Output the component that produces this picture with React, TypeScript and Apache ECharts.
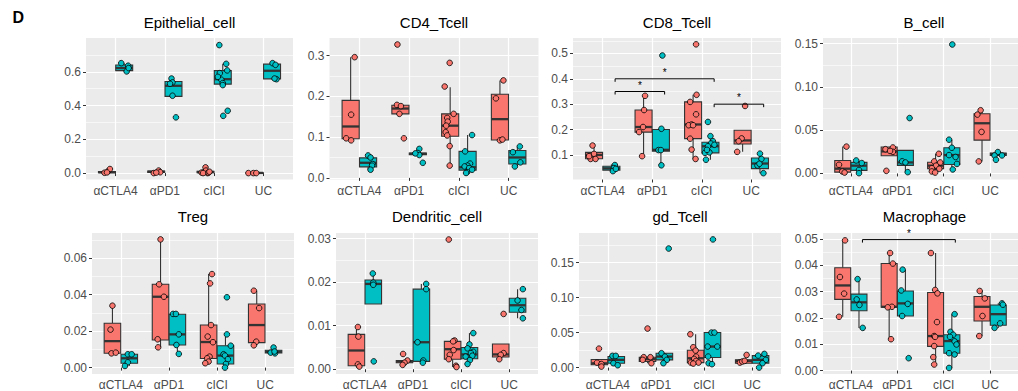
import React, { useEffect, useRef } from "react";
import * as echarts from "echarts";

const categories = ["αCTLA4", "αPD1", "cICI", "UC"];
const COLOR_A = "#F8766D";
const COLOR_B = "#00BFC4";
const FONT = "'Liberation Sans', Arial, Helvetica, sans-serif";

// box stats per category: [lower whisker, Q1, median, Q3, upper whisker]
// points per category: [jitter, value]

// Epithelial_cell
const epiBoxA = [[0.0, 0.002, 0.005, 0.009, 0.024], [0.0, 0.004, 0.008, 0.012, 0.02], [0.0, 0.003, 0.006, 0.01, 0.03], [0.0, 0.0, 0.001, 0.002, 0.003]];
const epiBoxB = [[0.6, 0.607, 0.622, 0.64, 0.651], [0.454, 0.454, 0.517, 0.542, 0.56], [0.521, 0.527, 0.556, 0.607, 0.647], [0.555, 0.558, 0.606, 0.645, 0.651]];
const epiPtsA = [
  [[-0.05, 0.002], [0.02, 0.01], [0.06, 0.024], [0.0, 0.004]],
  [[-0.05, 0.0], [0.05, 0.015], [0.08, 0.005], [0.0, 0.003]],
  [[-0.08, 0.003], [-0.03, 0.005], [0.0, 0.034], [0.01, 0.015], [0.04, 0.0], [0.06, 0.002], [0.08, 0.008], [-0.05, 0.0]],
  [[-0.13, 0.0], [-0.03, 0.0], [0.03, 0.0]],
];
const epiPtsB = [
  [[-0.06, 0.651], [0.08, 0.636], [0.05, 0.602], [0.09, 0.622]],
  [[-0.04, 0.56], [-0.02, 0.537], [-0.07, 0.529], [-0.02, 0.458], [0.05, 0.33]],
  [[-0.07, 0.758], [0.07, 0.647], [0.09, 0.608], [-0.06, 0.592], [-0.03, 0.553], [0.0, 0.533], [0.0, 0.521], [0.01, 0.339], [0.1, 0.369], [-0.1, 0.57]],
  [[0.01, 0.651], [0.07, 0.641], [0.09, 0.556], [0.05, 0.56]],
];
const epiTicks = [0, 0.2, 0.4, 0.6];
const epiTickLabels = ["0.0", "0.2", "0.4", "0.6"];
const epiRange = [-0.038, 0.8];

// CD4_Tcell
const cd4BoxA = [[0.092, 0.096, 0.126, 0.19, 0.296], [0.157, 0.157, 0.17, 0.178, 0.178], [0.03, 0.102, 0.128, 0.157, 0.222], [0.09, 0.093, 0.144, 0.205, 0.239]];
const cd4BoxB = [[0.02, 0.027, 0.037, 0.049, 0.055], [0.056, 0.057, 0.059, 0.061, 0.062], [0.012, 0.019, 0.026, 0.065, 0.105], [0.028, 0.034, 0.05, 0.067, 0.077]];
const cd4PtsA = [
  [[0.08, 0.296], [0.01, 0.155], [-0.09, 0.097], [0.01, 0.092]],
  [[-0.06, 0.327], [-0.07, 0.179], [0.01, 0.176], [-0.02, 0.157], [0.07, 0.097]],
  [[-0.01, 0.282], [-0.11, 0.224], [0.07, 0.157], [-0.06, 0.147], [-0.05, 0.138], [-0.08, 0.128], [-0.09, 0.112], [-0.06, 0.104], [-0.01, 0.078], [-0.01, 0.03]],
  [[0.07, 0.239], [-0.08, 0.195], [0.0, 0.092], [0.05, 0.094]],
];
const cd4PtsB = [
  [[0.0, 0.055], [0.05, 0.05], [0.09, 0.034], [0.08, 0.03], [0.05, 0.02]],
  [[0.03, 0.071], [0.0, 0.061], [0.03, 0.056], [0.1, 0.037], [-0.05, 0.06]],
  [[0.09, 0.105], [-0.05, 0.065], [0.05, 0.035], [0.0, 0.03], [-0.06, 0.028], [0.03, 0.024], [0.09, 0.02], [-0.01, 0.014], [-0.03, 0.012]],
  [[0.05, 0.077], [-0.09, 0.063], [0.06, 0.038], [-0.05, 0.028]],
];
const cd4Ticks = [0, 0.1, 0.2, 0.3];
const cd4TickLabels = ["0.0", "0.1", "0.2", "0.3"];
const cd4Range = [-0.004, 0.343];

// CD8_Tcell
const cd8BoxA = [[0.083, 0.085, 0.1, 0.11, 0.135], [0.095, 0.19, 0.21, 0.277, 0.333], [0.084, 0.164, 0.22, 0.309, 0.337], [0.112, 0.143, 0.157, 0.197, 0.197]];
const cd8BoxB = [[0.036, 0.04, 0.047, 0.055, 0.062], [0.059, 0.115, 0.12, 0.2, 0.2], [0.081, 0.108, 0.134, 0.15, 0.174], [0.028, 0.046, 0.066, 0.088, 0.105]];
const cd8PtsA = [
  [[-0.03, 0.137], [0.0, 0.104], [-0.07, 0.084], [0.03, 0.084], [-0.1, 0.095]],
  [[0.03, 0.333], [0.01, 0.277], [-0.01, 0.21], [-0.09, 0.19], [-0.03, 0.095]],
  [[0.06, 0.536], [0.07, 0.337], [-0.06, 0.309], [0.06, 0.26], [-0.03, 0.22], [-0.09, 0.217], [0.0, 0.217], [-0.06, 0.164], [-0.03, 0.121], [0.05, 0.084]],
  [[0.05, 0.293], [-0.02, 0.165], [-0.08, 0.154], [-0.11, 0.112]],
];
const cd8PtsB = [
  [[0.07, 0.06], [0.05, 0.048], [0.03, 0.036], [0.09, 0.045]],
  [[0.03, 0.492], [0.01, 0.203], [-0.05, 0.119], [0.0, 0.119], [0.01, 0.059]],
  [[-0.05, 0.23], [0.0, 0.174], [0.05, 0.154], [0.01, 0.145], [-0.05, 0.134], [-0.11, 0.108], [-0.02, 0.11], [-0.09, 0.081], [0.08, 0.14], [-0.07, 0.12]],
  [[0.0, 0.105], [0.03, 0.084], [-0.05, 0.058], [0.07, 0.028], [-0.01, 0.065]],
];
const cd8Ticks = [0.1, 0.2, 0.3, 0.4, 0.5];
const cd8TickLabels = ["0.1", "0.2", "0.3", "0.4", "0.5"];
const cd8Range = [0.003, 0.561];
// [from category, to category, y, label]
const cd8Sig = [[1, 2, 0.35, "*"], [1, 3, 0.4, "*"], [3, 4, 0.3, "*"]];

// B_cell
const bBoxA = [[0.001, 0.0015, 0.0055, 0.015, 0.031], [0.0205, 0.0205, 0.0255, 0.0305, 0.0305], [0.001, 0.0054, 0.009, 0.013, 0.0227], [0.0139, 0.0385, 0.058, 0.069, 0.073]];
const bBoxB = [[0.0, 0.0035, 0.009, 0.0128, 0.015], [0.0015, 0.0093, 0.0127, 0.0266, 0.0266], [0.0046, 0.0104, 0.0212, 0.0297, 0.039], [0.0208, 0.0208, 0.0224, 0.0235, 0.0247]];
const bPtsA = [
  [[0.08, 0.031], [-0.08, 0.01], [-0.01, 0.0023], [0.04, 0.001]],
  [[-0.08, 0.028], [0.08, 0.03], [0.08, 0.025], [0.02, 0.026], [-0.06, 0.003]],
  [[0.07, 0.0227], [-0.03, 0.0139], [0.1, 0.0127], [0.01, 0.009], [-0.08, 0.006], [0.08, 0.0054], [-0.08, 0.0023], [-0.01, 0.001]],
  [[-0.03, 0.073], [-0.1, 0.068], [-0.01, 0.048], [-0.07, 0.0139]],
];
const bPtsB = [
  [[-0.06, 0.015], [0.06, 0.012], [0.0, 0.004], [0.0, 0.0003]],
  [[0.09, 0.064], [-0.07, 0.014], [0.0, 0.0127], [0.05, 0.0015]],
  [[0.01, 0.149], [-0.06, 0.039], [0.0, 0.0297], [-0.06, 0.0212], [0.11, 0.011], [0.02, 0.0046], [0.08, 0.019]],
  [[-0.01, 0.0247], [-0.08, 0.0208], [0.08, 0.0208], [-0.05, 0.0158]],
];
const bTicks = [0, 0.05, 0.1, 0.15];
const bTickLabels = ["0.00", "0.05", "0.10", "0.15"];
const bRange = [-0.007, 0.1565];

// Treg
const tregBoxA = [[0.0078, 0.0079, 0.0145, 0.0243, 0.0339], [0.0111, 0.0151, 0.0388, 0.0456, 0.0702], [0.0024, 0.005, 0.014, 0.0233, 0.0512], [0.0122, 0.0137, 0.0233, 0.0348, 0.0421]];
const tregBoxB = [[0.0009, 0.0024, 0.0051, 0.0073, 0.0073], [0.0075, 0.0124, 0.0182, 0.0292, 0.0294], [0.0, 0.002, 0.0066, 0.012, 0.0182], [0.0078, 0.008, 0.0087, 0.0095, 0.011]];
const tregPtsA = [
  [[0.0, 0.0339], [-0.04, 0.0208], [-0.02, 0.0078], [0.07, 0.0082]],
  [[0.0, 0.0702], [-0.03, 0.0456], [0.07, 0.0388], [-0.06, 0.0155], [-0.05, 0.0111]],
  [[0.07, 0.0512], [0.03, 0.0461], [0.05, 0.0233], [-0.02, 0.017], [0.09, 0.0139], [0.02, 0.006], [-0.03, 0.0051], [0.0, 0.0033], [-0.07, 0.0024]],
  [[-0.06, 0.0421], [0.05, 0.0326], [-0.01, 0.0142], [-0.06, 0.0122]],
];
const tregPtsB = [
  [[-0.03, 0.0073], [0.05, 0.0073], [-0.03, 0.0029], [-0.09, 0.0009]],
  [[-0.09, 0.0294], [-0.03, 0.0294], [0.03, 0.0182], [-0.02, 0.0124], [0.03, 0.0075]],
  [[0.03, 0.0385], [0.03, 0.0182], [0.11, 0.012], [-0.04, 0.0073], [-0.01, 0.0066], [0.05, 0.0046], [0.01, 0.002], [-0.01, 0.0]],
  [[0.0, 0.011], [-0.06, 0.0082], [0.03, 0.0078], [0.02, 0.0088]],
];
const tregTicks = [0, 0.02, 0.04, 0.06];
const tregTickLabels = ["0.00", "0.02", "0.04", "0.06"];
const tregRange = [-0.0035, 0.0737];

// Dendritic_cell
const dcBoxA = [[0.0006, 0.0008, 0.0043, 0.008, 0.0097], [0.001, 0.0015, 0.0018, 0.002, 0.002], [0.0005, 0.0023, 0.0046, 0.0064, 0.0066], [0.0023, 0.0028, 0.0034, 0.0058, 0.0058]];
const dcBoxB = [[0.015, 0.015, 0.0196, 0.0205, 0.022], [0.0015, 0.0018, 0.0062, 0.0184, 0.0196], [0.0011, 0.0024, 0.0034, 0.005, 0.0083], [0.0117, 0.0131, 0.0147, 0.0163, 0.0184]];
const dcPtsA = [
  [[0.03, 0.0097], [0.04, 0.0075], [0.03, 0.0011], [0.06, 0.0006]],
  [[-0.03, 0.0035], [0.06, 0.002], [0.0, 0.0015], [-0.04, 0.001]],
  [[-0.08, 0.0298], [0.04, 0.0066], [0.01, 0.0064], [0.02, 0.0044], [-0.06, 0.0033], [-0.08, 0.0023], [0.07, 0.0008], [0.08, 0.0005]],
  [[0.06, 0.0127], [0.06, 0.0037], [0.0, 0.0033], [-0.03, 0.0023]],
];
const dcPtsB = [
  [[-0.01, 0.022], [0.0, 0.0199], [0.0, 0.0194], [0.01, 0.0018]],
  [[0.1, 0.0196], [0.1, 0.0184], [-0.08, 0.0062], [0.04, 0.002], [0.03, 0.0015]],
  [[0.08, 0.0083], [0.0, 0.0057], [-0.04, 0.0048], [0.08, 0.004], [0.03, 0.0037], [0.06, 0.0031], [-0.08, 0.0029], [0.01, 0.0021], [-0.04, 0.0012]],
  [[0.11, 0.0184], [0.0, 0.0158], [0.08, 0.0136], [0.11, 0.0117]],
];
const dcTicks = [0, 0.01, 0.02, 0.03];
const dcTickLabels = ["0.00", "0.01", "0.02", "0.03"];
const dcRange = [-0.0011, 0.0313];

// gd_Tcell
const gdBoxA = [[0.0014, 0.004, 0.006, 0.0115, 0.0115], [0.0062, 0.0086, 0.012, 0.0148, 0.0148], [0.0057, 0.0071, 0.0133, 0.0248, 0.0476], [0.0062, 0.0062, 0.0095, 0.011, 0.011]];
const gdBoxB = [[0.0033, 0.0062, 0.011, 0.0157, 0.0167], [0.0062, 0.011, 0.0157, 0.0205, 0.0205], [0.0048, 0.0143, 0.03, 0.05, 0.05], [0.0, 0.0062, 0.011, 0.0171, 0.0195]];
const gdPtsA = [
  [[-0.01, 0.027], [-0.05, 0.007], [0.04, 0.005], [0.04, 0.0014]],
  [[0.0, 0.0557], [-0.08, 0.0148], [0.06, 0.0148], [-0.1, 0.011], [0.08, 0.0062]],
  [[-0.11, 0.0476], [-0.05, 0.029], [0.0, 0.0243], [0.01, 0.0157], [-0.03, 0.0124], [0.01, 0.0095], [-0.1, 0.0071], [0.06, 0.0071], [-0.05, 0.0057]],
  [[0.06, 0.018], [-0.08, 0.0071], [-0.03, 0.0086], [0.02, 0.0095]],
];
const gdPtsB = [
  [[-0.08, 0.0167], [-0.01, 0.0167], [-0.06, 0.0062], [0.03, 0.0033]],
  [[0.09, 0.17], [-0.06, 0.0205], [0.01, 0.0157], [0.05, 0.011], [-0.02, 0.0062]],
  [[0.01, 0.183], [-0.02, 0.05], [0.04, 0.05], [-0.1, 0.03], [0.1, 0.03], [-0.09, 0.0157], [-0.08, 0.0062], [-0.01, 0.0048]],
  [[0.08, 0.0195], [-0.05, 0.0171], [0.11, 0.011], [0.04, 0.0062], [-0.03, 0.0]],
];
const gdTicks = [0, 0.05, 0.1, 0.15];
const gdTickLabels = ["0.00", "0.05", "0.10", "0.15"];
const gdRange = [-0.0092, 0.1922];

// Macrophage
const macBoxA = [[0.0204, 0.027, 0.0323, 0.039, 0.0494], [0.0119, 0.024, 0.0242, 0.0406, 0.0446], [0.0023, 0.0092, 0.0131, 0.0296, 0.0446], [0.0131, 0.0188, 0.0242, 0.0281, 0.0302]];
const macBoxB = [[0.0162, 0.0227, 0.0259, 0.029, 0.0347], [0.0207, 0.0207, 0.0255, 0.0302, 0.0383], [0.001, 0.0066, 0.0112, 0.0136, 0.0214], [0.0162, 0.0172, 0.0214, 0.0249, 0.0255]];
const macPtsA = [
  [[0.05, 0.0494], [-0.06, 0.0355], [0.03, 0.0292], [-0.08, 0.0204]],
  [[0.02, 0.0446], [0.08, 0.0406], [0.06, 0.0242], [-0.03, 0.024], [0.04, 0.0119]],
  [[-0.1, 0.0446], [-0.01, 0.0306], [0.04, 0.0293], [0.03, 0.0184], [-0.03, 0.0131], [-0.01, 0.0128], [-0.03, 0.0093], [-0.05, 0.0051], [-0.03, 0.0023]],
  [[-0.05, 0.0302], [0.06, 0.0274], [0.01, 0.0207], [-0.06, 0.0131]],
];
const macPtsB = [
  [[-0.03, 0.0347], [-0.05, 0.027], [0.01, 0.0249], [0.08, 0.0162]],
  [[-0.06, 0.0383], [-0.09, 0.0304], [0.05, 0.0253], [-0.07, 0.0207], [0.07, 0.0047]],
  [[0.06, 0.0214], [-0.03, 0.0147], [0.03, 0.0136], [-0.04, 0.0128], [0.06, 0.0111], [0.1, 0.0099], [-0.06, 0.0066], [0.06, 0.0061], [-0.06, 0.001]],
  [[0.08, 0.0255], [0.04, 0.0179], [-0.08, 0.0162], [0.1, 0.025]],
];
const macTicks = [0, 0.01, 0.02, 0.03, 0.04, 0.05];
const macTickLabels = ["0.00", "0.01", "0.02", "0.03", "0.04", "0.05"];
const macRange = [-0.0013, 0.0522];
const macSig = [[1, 3, 0.0497, "*"]];

const panels = [
  { title: "Epithelial_cell", boxA: epiBoxA, boxB: epiBoxB, ptsA: epiPtsA, ptsB: epiPtsB, ticks: epiTicks, labels: epiTickLabels, range: epiRange, sig: [] as any[] },
  { title: "CD4_Tcell", boxA: cd4BoxA, boxB: cd4BoxB, ptsA: cd4PtsA, ptsB: cd4PtsB, ticks: cd4Ticks, labels: cd4TickLabels, range: cd4Range, sig: [] as any[] },
  { title: "CD8_Tcell", boxA: cd8BoxA, boxB: cd8BoxB, ptsA: cd8PtsA, ptsB: cd8PtsB, ticks: cd8Ticks, labels: cd8TickLabels, range: cd8Range, sig: cd8Sig },
  { title: "B_cell", boxA: bBoxA, boxB: bBoxB, ptsA: bPtsA, ptsB: bPtsB, ticks: bTicks, labels: bTickLabels, range: bRange, sig: [] as any[] },
  { title: "Treg", boxA: tregBoxA, boxB: tregBoxB, ptsA: tregPtsA, ptsB: tregPtsB, ticks: tregTicks, labels: tregTickLabels, range: tregRange, sig: [] as any[] },
  { title: "Dendritic_cell", boxA: dcBoxA, boxB: dcBoxB, ptsA: dcPtsA, ptsB: dcPtsB, ticks: dcTicks, labels: dcTickLabels, range: dcRange, sig: [] as any[] },
  { title: "gd_Tcell", boxA: gdBoxA, boxB: gdBoxB, ptsA: gdPtsA, ptsB: gdPtsB, ticks: gdTicks, labels: gdTickLabels, range: gdRange, sig: [] as any[] },
  { title: "Macrophage", boxA: macBoxA, boxB: macBoxB, ptsA: macPtsA, ptsB: macPtsB, ticks: macTicks, labels: macTickLabels, range: macRange, sig: macSig },
];

const layout = [
  { left: 86, top: 38, width: 207, height: 141.5, titleY: 22.2 },
  { left: 329.5, top: 38, width: 209, height: 141.5, titleY: 22.2 },
  { left: 573, top: 38, width: 208, height: 141.5, titleY: 22.2 },
  { left: 823, top: 38, width: 202, height: 141.5, titleY: 22.2 },
  { left: 92, top: 233, width: 202, height: 141, titleY: 216.3 },
  { left: 336, top: 233, width: 202, height: 141, titleY: 216.3 },
  { left: 579, top: 233, width: 202, height: 141, titleY: 216.3 },
  { left: 823, top: 233, width: 203, height: 141, titleY: 216.3 },
];

const DODGE = 0.175;
const HALF_BOX = 0.172;
const SIG_SHIFT = 0.25;

function minorTicks(major: number[], lo: number, hi: number) {
  const step = major[1] - major[0];
  const out: number[] = [];
  for (let k = -1; k <= major.length + 1; k++) {
    const v = +(major[0] + step * k + step / 2).toFixed(8);
    if (v >= lo && v <= hi) out.push(v);
  }
  return out;
}

function boxRenderer(offset: number, color: string) {
  return (params: any, api: any) => {
    const x = api.value(0) + offset;
    const lo = api.value(1), q1 = api.value(2), med = api.value(3), q3 = api.value(4), hi = api.value(5);
    const tl = api.coord([x - HALF_BOX, q3]);
    const br = api.coord([x + HALF_BOX, q1]);
    const mL = api.coord([x - HALF_BOX, med]);
    const mR = api.coord([x + HALF_BOX, med]);
    const pHi = api.coord([x, hi]);
    const pQ3 = api.coord([x, q3]);
    const pLo = api.coord([x, lo]);
    const pQ1 = api.coord([x, q1]);
    const stroke = "#333333";
    return {
      type: "group",
      children: [
        { type: "line", shape: { x1: pHi[0], y1: pHi[1], x2: pQ3[0], y2: pQ3[1] }, style: { stroke, lineWidth: 1.1 } },
        { type: "line", shape: { x1: pLo[0], y1: pLo[1], x2: pQ1[0], y2: pQ1[1] }, style: { stroke, lineWidth: 1.1 } },
        { type: "rect", shape: { x: tl[0], y: tl[1], width: br[0] - tl[0], height: Math.max(br[1] - tl[1], 0.5) }, style: { fill: color, stroke, lineWidth: 1.1 } },
        { type: "line", shape: { x1: mL[0], y1: mL[1], x2: mR[0], y2: mR[1] }, style: { stroke, lineWidth: 2.3 } },
      ],
    };
  };
}

function sigRenderer(params: any, api: any) {
  const y = api.value(2);
  const a = api.coord([api.value(0), y]);
  const b = api.coord([api.value(1), y]);
  return {
    type: "group",
    children: [
      { type: "polyline", shape: { points: [[a[0], a[1] + 3], [a[0], a[1]], [b[0], b[1]], [b[0], b[1] + 3]] }, style: { stroke: "#000", lineWidth: 1, fill: null } },
      { type: "text", style: { text: "*", x: (a[0] + b[0]) / 2, y: a[1] - 1.5, align: "center", verticalAlign: "bottom", fontSize: 10, fill: "#000", fontFamily: FONT } },
    ],
  };
}

function buildOption() {
  const grid: any[] = [];
  const xAxis: any[] = [];
  const yAxis: any[] = [];
  const series: any[] = [];
  const graphic: any[] = [];

  panels.forEach((p, i) => {
    const L = layout[i];
    grid.push({ left: L.left, top: L.top, width: L.width, height: L.height, show: true, backgroundColor: "#EBEBEB", borderWidth: 0 });
    xAxis.push({
      type: "value", gridIndex: i, min: 0.4, max: 4.6,
      axisLine: { show: false },
      axisTick: { show: true, length: 3, lineStyle: { color: "#333333", width: 1 }, customValues: [1, 2, 3, 4] },
      axisLabel: { customValues: [1, 2, 3, 4], formatter: (v: number) => categories[Math.round(v) - 1], color: "#4D4D4D", fontSize: 12, fontFamily: FONT, margin: 5, hideOverlap: false },
      splitLine: { show: true, lineStyle: { color: "#FFFFFF", width: 1.2 } },
    });
    yAxis.push({
      type: "value", gridIndex: i, min: p.range[0], max: p.range[1],
      axisLine: { show: false },
      axisTick: { show: true, length: 3, lineStyle: { color: "#333333", width: 1 }, customValues: p.ticks },
      axisLabel: {
        customValues: p.ticks,
        formatter: (v: number) => {
          let best = 0;
          p.ticks.forEach((t, k) => { if (Math.abs(t - v) < Math.abs(p.ticks[best] - v)) best = k; });
          return p.labels[best];
        },
        color: "#4D4D4D", fontSize: 12, fontFamily: FONT, margin: 5, hideOverlap: false,
      },
      splitLine: { show: true, lineStyle: { color: "#FFFFFF", width: 1.2 } },
    });
    yAxis.push({
      type: "value", gridIndex: i, min: p.range[0], max: p.range[1], position: "left",
      axisLine: { show: false },
      axisTick: { show: false, customValues: minorTicks(p.ticks, p.range[0], p.range[1]) },
      axisLabel: { show: false, customValues: minorTicks(p.ticks, p.range[0], p.range[1]) },
      splitLine: { show: true, lineStyle: { color: "#FFFFFF", width: 0.6 } },
    });
    const yIdx = 2 * i;
    series.push({
      type: "custom", xAxisIndex: i, yAxisIndex: yIdx, silent: true, z: 3,
      data: p.boxA.map((b, k) => [k + 1, ...b]), encode: { x: 0, y: [1, 2, 3, 4, 5] },
      renderItem: boxRenderer(-DODGE, COLOR_A),
    });
    series.push({
      type: "custom", xAxisIndex: i, yAxisIndex: yIdx, silent: true, z: 3,
      data: p.boxB.map((b, k) => [k + 1, ...b]), encode: { x: 0, y: [1, 2, 3, 4, 5] },
      renderItem: boxRenderer(DODGE, COLOR_B),
    });
    series.push({
      type: "scatter", xAxisIndex: i, yAxisIndex: yIdx, silent: true, z: 4, symbol: "circle", symbolSize: 5.6,
      data: p.ptsA.flatMap((list, k) => list.map(([j, v]) => [k + 1 - DODGE + j, v])),
      itemStyle: { color: COLOR_A, borderColor: "#000000", borderWidth: 0.8, opacity: 1 },
    });
    series.push({
      type: "scatter", xAxisIndex: i, yAxisIndex: yIdx, silent: true, z: 4, symbol: "circle", symbolSize: 5.6,
      data: p.ptsB.flatMap((list, k) => list.map(([j, v]) => [k + 1 + DODGE + j, v])),
      itemStyle: { color: COLOR_B, borderColor: "#000000", borderWidth: 0.8, opacity: 1 },
    });
    if (p.sig.length) {
      series.push({
        type: "custom", xAxisIndex: i, yAxisIndex: yIdx, silent: true, z: 5,
        data: p.sig.map((s: any) => [s[0] + SIG_SHIFT, s[1] + SIG_SHIFT, s[2], s[3]]), encode: { x: [0, 1], y: 2 },
        renderItem: sigRenderer,
      });
    }
    graphic.push({
      type: "text", x: L.left + L.width / 2, y: L.titleY,
      style: { text: p.title, align: "center", verticalAlign: "middle", fontSize: 15, fontFamily: FONT, fill: "#000000" },
    });
  });

  graphic.push({
    type: "text", x: 12.5, y: 17.2,
    style: { text: "D", align: "left", verticalAlign: "middle", fontSize: 16, fontWeight: "bold", fontFamily: FONT, fill: "#000000" },
  });

  return { animation: false, backgroundColor: "#FFFFFF", grid, xAxis, yAxis, series, graphic };
}

export default function App() {
  const ref = useRef<HTMLDivElement>(null);
  useEffect(() => {
    if (!ref.current) return;
    const chart = echarts.init(ref.current, null, { renderer: "svg" });
    chart.setOption(buildOption() as any);
    return () => chart.dispose();
  }, []);
  return <div ref={ref} style={{ position: "absolute", left: 0, top: 0, width: 1018, height: 391 }} />;
}
